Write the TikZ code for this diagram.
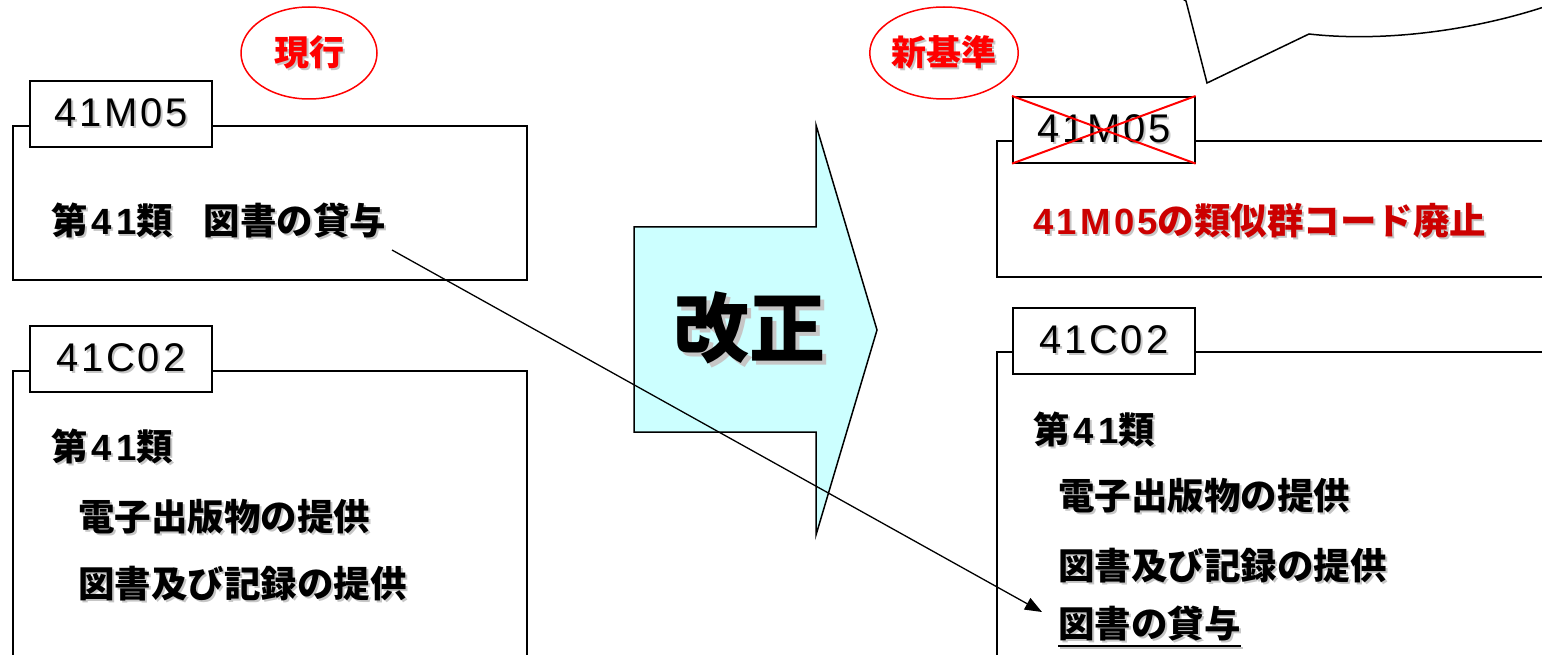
\documentclass[tikz,border=0pt]{standalone}
\usepackage{fontspec}
\setmainfont{Noto Sans CJK JP}
\newfontfamily\dg{Liberation Sans}[LetterSpace=7]
\newfontfamily\digwide{Liberation Sans}[LetterSpace=12]
\newfontfamily\digmid{Liberation Sans}[LetterSpace=9]
\usetikzlibrary{arrows.meta,shapes.geometric}
\definecolor{arrowfill}{HTML}{CCFFFF}
\definecolor{redtxt}{HTML}{CC0000}
\newcommand\shd[2][2pt]{\makebox[0pt][l]{\kern#1\raisebox{-#1}{\color{gray!45}#2}}#2}
\newcommand\nm[1]{\kern0.1em{\digwide #1}}
\begin{document}
\begin{tikzpicture}[x=1pt,y=-1pt,
  frame/.style={line width=1.6pt, draw=black},
  tagbox/.style={draw=black, line width=1.6pt, fill=white, minimum width=182pt, minimum height=66pt, inner sep=0pt, anchor=north west, font=\fontsize{40}{44}\selectfont\dg},
  lbl/.style={anchor=west, inner sep=0pt, font=\fontsize{36.5}{40}\selectfont\bfseries},
  oval/.style={ellipse, draw=red, line width=1.5pt, minimum width=136pt, minimum height=92pt, inner sep=0pt, text=red, font=\fontsize{35}{40}\selectfont\bfseries},
  bigarrow/.style={draw=black, line width=1.5pt, fill=arrowfill, line join=miter},
  conn/.style={draw=black, line width=1.3pt, -{Triangle[length=17pt,width=13pt]}},
  cross/.style={draw=red, line width=2pt}
]
\useasboundingbox (0,0) rectangle (1542,655);

% ---- ovals
\node[oval] (cur) at (309,53) {\shd{現行}};
\node[oval] (new) at (944,53) {\shd{新基準}};

% ---- left frames
\draw[frame] (13,126) rectangle (527,280);
\draw[frame] (13,665) -- (13,371) -- (527,371) -- (527,665);
\node[tagbox] (tagA) at (29,80) {\shd{41M05}};
\node[tagbox] (tagB) at (29,325) {\shd{41C02}};

\node[lbl] (la) at (51,222) {\shd{第\nm{41}類\hspace{0.85em}図書の貸与}};
\node[lbl] (lb1) at (51,447) {\shd{第\nm{41}類}};
\node[lbl] (lb2) at (78,518) {\shd{電子出版物の提供}};
\node[lbl] (lb3) at (78,585) {\shd{図書及び記録の提供}};

% ---- big arrow
\draw[bigarrow] (634,227) -- (816,227) -- (816,125) -- (877,330) -- (816,535) -- (816,432) -- (634,432) -- cycle;
\node[inner sep=0pt, font=\fontsize{76}{80}\selectfont\bfseries] (kaisei) at (749,330) {\shd[4pt]{改正}};

% ---- right frames
\draw[frame] (1550,141) -- (997,141) -- (997,277) -- (1550,277);
\draw[frame] (1550,352) -- (997,352) -- (997,665);
\node[tagbox] (tagC) at (1012,96) {\shd{41M05}};
\draw[cross] (tagC.north west) -- (tagC.south east);
\draw[cross] (tagC.south west) -- (tagC.north east);
\node[tagbox] (tagD) at (1012,307) {\shd{41C02}};

\node[lbl, text=redtxt] (ra) at (1033,222) {\shd{{\digmid 41M05}の類似群コード廃止}};
\node[lbl] (rb1) at (1033,430) {\shd{第\nm{41}類}};
\node[lbl] (rb2) at (1058,497) {\shd{電子出版物の提供}};
\node[lbl] (rb3) at (1058,567) {\shd{図書及び記録の提供}};
\node[lbl] (rb4) at (1058,625) {\shd{図書の貸与}};
\draw[gray!45, line width=1.6pt] ([xshift=2pt,yshift=-23pt]rb4.west) -- ([xshift=2pt,yshift=-23pt]rb4.east);
\draw[black, line width=1.6pt] ([yshift=-21pt]rb4.west) -- ([yshift=-21pt]rb4.east);

% ---- connector
\coordinate (src) at (392,250);
\coordinate (dst) at (1042,612);
\draw[conn] (src) -- (dst);

% ---- callout fragment
\draw[line width=1.5pt, line join=miter] (1178,-4) -- (1186,1) -- (1207,83) -- (1309,34) .. controls (1380,42) and (1470,32) .. (1550,5);
\end{tikzpicture}
\end{document}
